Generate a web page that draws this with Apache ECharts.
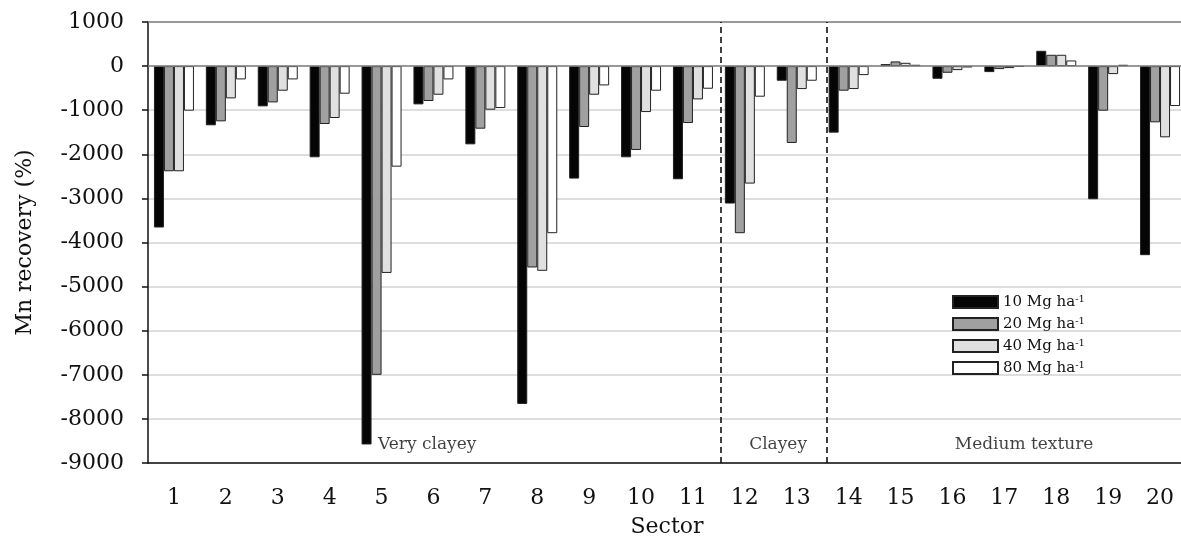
<!DOCTYPE html>
<html>
<head>
<meta charset="utf-8">
<script src="https://cdn.jsdelivr.net/npm/echarts@6/dist/echarts.min.js"></script>
<style>
html,body{margin:0;padding:0;background:#fff;}
#chart{width:1181px;height:541px;}
</style>
</head>
<body>
<div id="chart"></div>
<script>
const categories = ['1','2','3','4','5','6','7','8','9','10','11','12','13','14','15','16','17','18','19','20'];
const rate10 = [-3660,-1343,-913,-2068,-8580,-868,-1774,-7660,-2551,-2068,-2566,-3117,-332,-1509,45,-287,-136,347,-3019,-4287];
const rate20 = [-2385,-1253,-823,-1313,-7000,-792,-1419,-4566,-1381,-1902,-1291,-3789,-1743,-558,106,-151,-68,257,-1011,-1275];
const rate40 = [-2385,-732,-558,-1177,-4690,-649,-989,-4642,-649,-1042,-755,-2664,-521,-521,75,-91,-45,257,-181,-1615];
const rate80 = [-1010,-302,-302,-626,-2280,-302,-951,-3789,-438,-558,-513,-694,-332,-204,30,-30,-15,128,30,-906];
const seriesNames = ['10','20','40','80'];
const dividers = [11.53, 13.58];
const groupLabels = [['Very clayey', 5.88, -8590], ['Clayey', 12.64, -8590], ['Medium texture', 17.38, -8590]];

const FONT = 'DejaVu Serif';
const chart = echarts.init(document.getElementById('chart'));
const barBase = {type:'bar', barWidth:10, barGap:'0%', xAxisIndex:0, yAxisIndex:0};
const fills = ['#050505','#a0a0a0','#e0e0e0','#ffffff'];
const datas = [rate10, rate20, rate40, rate80];

const series = seriesNames.map((n,i)=>Object.assign({}, barBase, {
  name:n, data:datas[i],
  itemStyle:{color:fills[i], borderColor:'#222', borderWidth:1},
  emphasis:{disabled:true}
}));
series[0].markLine = {
  silent:true, symbol:'none', label:{show:false},
  lineStyle:{color:'#808080', width:1.5, type:'solid'},
  data:[{yAxis:0},{yAxis:1000}]
};
series.push({
  type:'scatter', xAxisIndex:1, yAxisIndex:0, symbolSize:0,
  data: groupLabels.map(g=>({value:[g[1], g[2]], name:g[0]})),
  label:{show:true, position:'inside', formatter:p=>p.name, fontFamily:FONT, fontSize:17, color:'#111'},
  markLine:{
    silent:true, symbol:'none', label:{show:false},
    lineStyle:{color:'#111', width:1.6, type:[6,4]},
    data: dividers.map(d=>({xAxis:d}))
  }
});

chart.setOption({
  animation:false,
  backgroundColor:'#fff',
  grid:{left:148, top:22, width:1038, height:441, containLabel:false, outerBoundsMode:'none'},
  legend:{
    orient:'vertical', left:947, top:289,
    icon:'rect',
    itemWidth:45, itemHeight:12, itemGap:6,
    data:seriesNames,
    formatter:n=>n+' Mg ha{sup|-1}',
    textStyle:{fontFamily:FONT, fontSize:15, color:'#111', lineHeight:16,
      rich:{sup:{fontSize:10, fontFamily:FONT, color:'#111', verticalAlign:'top', padding:[0,0,7,0]}}},
    selectedMode:false
  },
  xAxis:[{
    type:'category', data:categories, position:'bottom',
    name:'Sector', nameLocation:'middle', nameGap:53,
    nameTextStyle:{fontFamily:FONT, fontSize:22, color:'#111'},
    axisLine:{onZero:false, lineStyle:{color:'#111', width:1.5}},
    axisTick:{alignWithLabel:true, length:6, lineStyle:{color:'#111', width:1.5}},
    axisLabel:{fontFamily:FONT, fontSize:22, color:'#111', margin:24},
    splitLine:{show:false}
  },{
    type:'value', min:0.5, max:20.5, show:false
  }],
  yAxis:{
    type:'value', min:-9000, max:1000, interval:1000,
    name:'Mn recovery (%)', nameLocation:'middle', nameGap:112, nameRotate:90,
    nameTextStyle:{fontFamily:FONT, fontSize:22, color:'#111'},
    axisLine:{show:true, lineStyle:{color:'#111', width:1.5}},
    axisTick:{show:true, length:6, lineStyle:{color:'#111', width:1.5}},
    axisLabel:{fontFamily:FONT, fontSize:22, color:'#111', margin:24, formatter:v=>String(v)},
    splitLine:{show:true, lineStyle:{color:'#d3d3d3', width:1.5}}
  },
  series:series
});
</script>
</body>
</html>
